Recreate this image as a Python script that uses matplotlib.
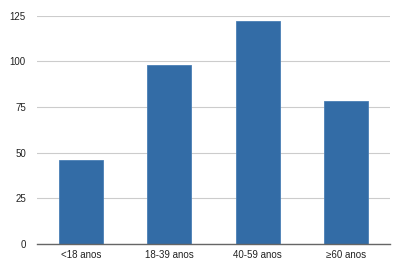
import matplotlib
matplotlib.use('Agg')
import matplotlib.pyplot as plt

plt.rcParams['font.family'] = ['Liberation Sans', 'DejaVu Sans']

categories = ['<18 anos', '18-39 anos', '40-59 anos', '≥60 anos']
values = [46, 98, 122, 78]
yticks = [0, 25, 50, 75, 100, 125]

fig = plt.figure(figsize=(4.02, 2.63), dpi=100)
ax = fig.add_axes([0.092, 0.072, 0.878, 0.869])

ax.bar(range(len(categories)), values, width=0.5, color='#336ca6',
       edgecolor='#4a7fb5', linewidth=0.6, zorder=3)

ax.set_xlim(-0.5, len(categories) - 0.5)
ax.set_ylim(0, 125)
ax.set_yticks(yticks)
ax.set_xticks(range(len(categories)))
ax.set_xticklabels(categories)
ax.tick_params(axis='both', length=0, labelsize=7, colors='#222222')
ax.tick_params(axis='y', pad=8)
ax.tick_params(axis='x', pad=4)

ax.grid(axis='y', color='#cccccc', linewidth=0.8, zorder=0)
for s in ['top', 'right', 'left']:
    ax.spines[s].set_visible(False)
ax.spines['bottom'].set_color('#666666')
ax.spines['bottom'].set_linewidth(1.0)
ax.spines['bottom'].set_zorder(4)

fig.savefig('out.png', dpi=100)
